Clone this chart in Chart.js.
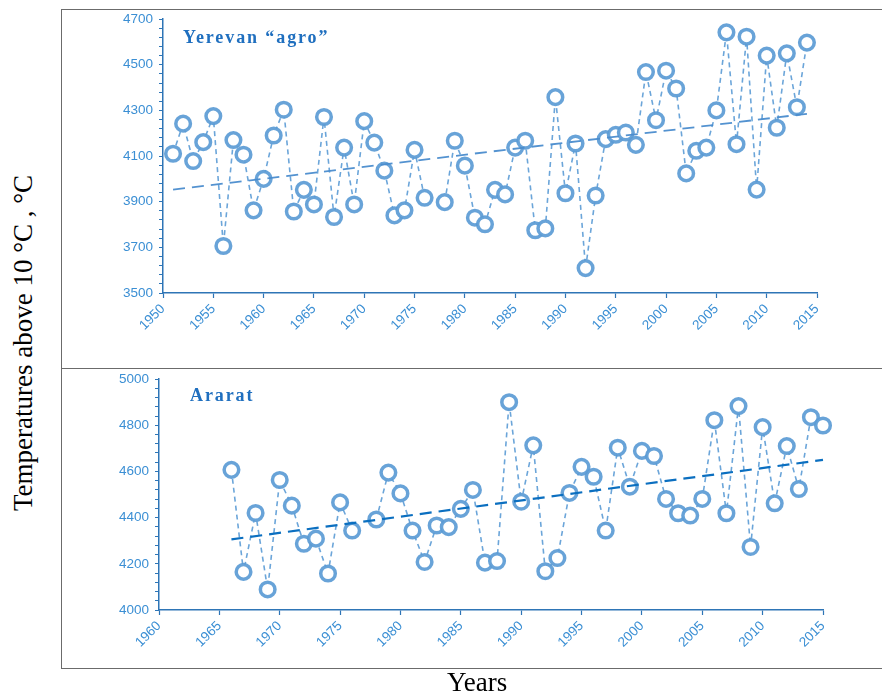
<!DOCTYPE html>
<html>
<head>
    <title>Temperatures above 10 °C</title>
    <script src="https://cdn.jsdelivr.net/npm/chart.js"></script>
    <style>
        body { margin: 0; background: #fff; }
        #wrap { position: relative; width: 882px; height: 697px; overflow: hidden; }
        .hl { position: absolute; left: 62px; right: 0; height: 0; border-top: 1.5px solid #6b6b6b; }
        .vl { position: absolute; left: 61px; width: 0; border-left: 1.5px solid #6b6b6b; }
        .panel-title { position: absolute; font-family: "Liberation Serif", "Times New Roman", serif; font-weight: bold; font-size: 18px; color: #1f6fbf; letter-spacing: 1.9px; }
        .axis-title { position: absolute; font-family: "Liberation Serif", "Times New Roman", serif; color: #000; font-size: 27px; white-space: nowrap; }
    </style>
</head>
<body>
<div id="wrap">
    <div class="hl" style="top: 9px;"></div>
    <div class="hl" style="top: 368px;"></div>
    <div class="hl" style="top: 668px;"></div>
    <div class="vl" style="top: 9px; height: 660px;"></div>

    <div style="position:absolute; left:62px; top:5px; width:820px; height:363px;">
        <canvas id="topChart"></canvas>
    </div>
    <div style="position:absolute; left:62px; top:365px; width:820px; height:303px;">
        <canvas id="bottomChart"></canvas>
    </div>

    <div class="panel-title" style="left:183px; top:27px;">Yerevan “agro”</div>
    <div class="panel-title" style="left:190px; top:385px;">Ararat</div>

    <div class="axis-title" style="left:23px; top:343px; transform: translate(-50%, -50%) rotate(-90deg);">Temperatures above 10 °C , °C</div>
    <div class="axis-title" style="left:447px; top:667px;">Years</div>
</div>

<script>
    // Yerevan "agro" (1977 missing)
    const yerevanYears = [1951, 1952, 1953, 1954, 1955, 1956, 1957, 1958, 1959, 1960,
        1961, 1962, 1963, 1964, 1965, 1966, 1967, 1968, 1969, 1970,
        1971, 1972, 1973, 1974, 1975, 1976, 1977, 1978, 1979, 1980,
        1981, 1982, 1983, 1984, 1985, 1986, 1987, 1988, 1989, 1990,
        1991, 1992, 1993, 1994, 1995, 1996, 1997, 1998, 1999, 2000,
        2001, 2002, 2003, 2004, 2005, 2006, 2007, 2008, 2009, 2010,
        2011, 2012, 2013, 2014];
    const yerevanValues = [4110, 4242, 4078, 4161, 4275, 3706, 4170, 4106, 3862, 4000,
        4190, 4303, 3857, 3952, 3888, 4271, 3833, 4137, 3888, 4253,
        4159, 4036, 3840, 3862, 4127, 3917, null, 3898, 4167, 4058,
        3830, 3801, 3952, 3932, 4137, 4167, 3775, 3783, 4358, 3937,
        4155, 3609, 3927, 4174, 4193, 4203, 4149, 4468, 4257, 4474,
        4396, 4024, 4123, 4137, 4300, 4642, 4152, 4623, 3953, 4540,
        4224, 4550, 4314, 4597];
    const yerevanTrendYears = [1951, 2014];
    const yerevanTrendValues = [3953, 4285];

    // Ararat (1977 missing)
    const araratYears = [1966, 1967, 1968, 1969, 1970, 1971, 1972, 1973, 1974, 1975,
        1976, 1977, 1978, 1979, 1980, 1981, 1982, 1983, 1984, 1985,
        1986, 1987, 1988, 1989, 1990, 1991, 1992, 1993, 1994, 1995,
        1996, 1997, 1998, 1999, 2000, 2001, 2002, 2003, 2004, 2005,
        2006, 2007, 2008, 2009, 2010, 2011, 2012, 2013, 2014, 2015];
    const araratValues = [4607, 4165, 4420, 4089, 4563, 4452, 4287, 4309, 4158, 4466,
        4344, null, 4392, 4595, 4505, 4344, 4208, 4366, 4359, 4438,
        4520, 4205, 4212, 4900, 4469, 4713, 4168, 4225, 4507, 4620,
        4577, 4344, 4703, 4534, 4689, 4667, 4481, 4419, 4409, 4481,
        4822, 4419, 4883, 4273, 4792, 4462, 4710, 4524, 4835, 4799];
    const araratTrendYears = [1966, 2015];
    const araratTrendValues = [4306, 4650];

    const axisBlue = '#2e75b6';
    const tickBlue = '#3b8fd4';
    const pointBlue = 'rgba(91, 155, 213, 0.92)';

    function pairs(xs, ys) {
        return xs.map((x, i) => ({ x: x, y: ys[i] }));
    }

    function makeChart(id, cfg) {
        return new Chart(document.getElementById(id), {
            type: 'line',
            data: {
                datasets: [
                    {
                        data: pairs(cfg.years, cfg.values),
                        borderColor: 'rgba(91, 155, 213, 0.9)',
                        borderWidth: 1.6,
                        borderDash: [5, 4],
                        pointRadius: 7.3,
                        pointBorderWidth: 3.5,
                        pointBorderColor: pointBlue,
                        pointBackgroundColor: '#fff',
                        spanGaps: false,
                        clip: false,
                        order: 2
                    },
                    {
                        data: pairs(cfg.trendYears, cfg.trendValues),
                        borderColor: cfg.trendColor,
                        borderWidth: cfg.trendWidth,
                        borderDash: [12, 7],
                        pointRadius: 0,
                        clip: false,
                        order: 1
                    }
                ]
            },
            options: {
                responsive: true,
                maintainAspectRatio: false,
                animation: false,
                layout: { padding: { top: cfg.padTop, right: cfg.padRight, left: 0, bottom: 0 } },
                plugins: { legend: { display: false }, tooltip: { enabled: false } },
                scales: {
                    x: {
                        type: 'linear',
                        min: cfg.xMin,
                        max: cfg.xMax,
                        afterFit: s => { s.height = cfg.xHeight; },
                        border: { color: axisBlue, width: 1.5 },
                        grid: { drawOnChartArea: false, tickLength: 5, color: axisBlue, tickWidth: 1.2 },
                        ticks: {
                            stepSize: 5,
                            minRotation: 45,
                            maxRotation: 45,
                            autoSkip: false,
                            padding: 3,
                            color: tickBlue,
                            font: { family: 'Liberation Sans, Arial', size: 13.5 },
                            callback: v => String(v)
                        }
                    },
                    y: {
                        min: cfg.yMin,
                        max: cfg.yMax,
                        afterFit: s => { s.width = cfg.yWidth; },
                        border: { color: axisBlue, width: 1.5 },
                        grid: { drawOnChartArea: false, tickLength: 4, color: axisBlue, tickWidth: 1 },
                        ticks: {
                            stepSize: 40,
                            autoSkip: false,
                            padding: 6,
                            color: tickBlue,
                            font: { family: 'Liberation Sans, Arial', size: 13.5 },
                            callback: v => ((v - cfg.yMin) % 200 === 0 ? String(v) : '')
                        }
                    }
                }
            }
        });
    }

    makeChart('topChart', {
        years: yerevanYears, values: yerevanValues,
        trendYears: yerevanTrendYears, trendValues: yerevanTrendValues,
        trendColor: 'rgba(74, 140, 205, 0.95)', trendWidth: 1.8,
        xMin: 1950, xMax: 2015, yMin: 3500, yMax: 4700,
        padTop: 7, padRight: 65, yWidth: 101, xHeight: 75
    });

    makeChart('bottomChart', {
        years: araratYears, values: araratValues,
        trendYears: araratTrendYears, trendValues: araratTrendValues,
        trendColor: '#0b6fc0', trendWidth: 2.2,
        xMin: 1960, xMax: 2015, yMin: 4000, yMax: 5000,
        padTop: 8, padRight: 59, yWidth: 97, xHeight: 58
    });
</script>
</body>
</html>
